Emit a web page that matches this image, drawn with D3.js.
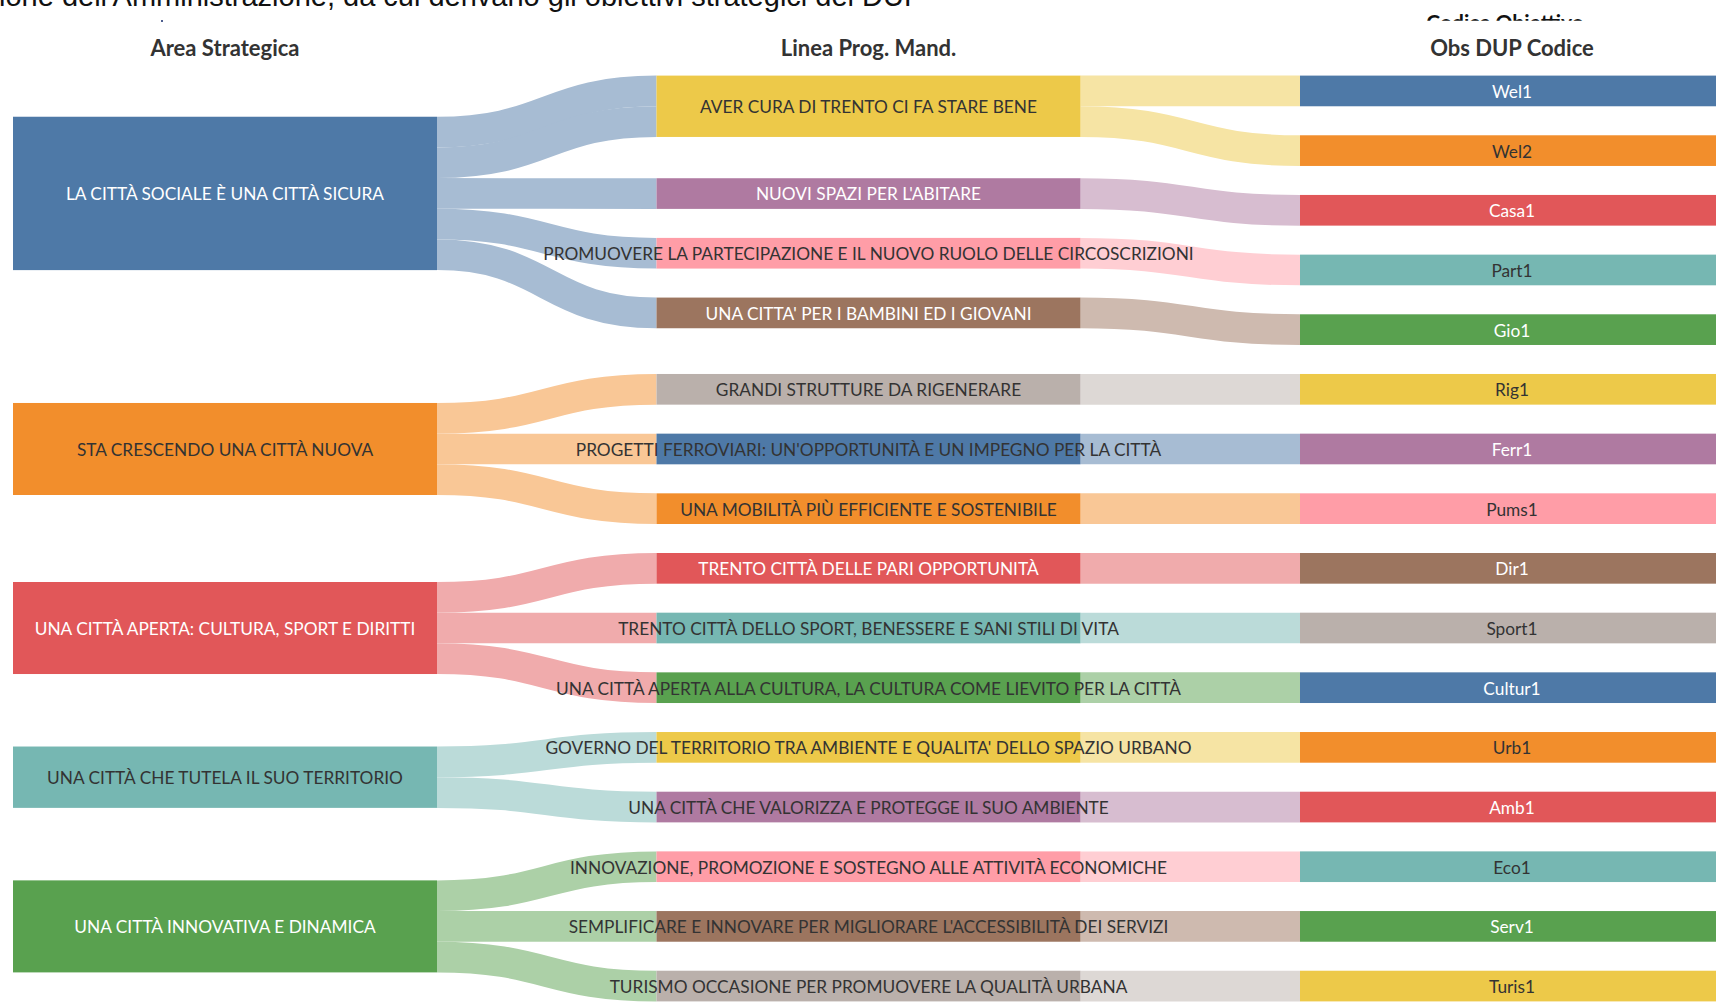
<!DOCTYPE html>
<html>
<head>
<meta charset="utf-8">
<script src="https://cdn.jsdelivr.net/npm/d3@7"></script>
<style>
  body { margin: 0; background: #fff; }
  svg { display: block; }
  .lbl { font-family: Lato, "Open Sans", sans-serif; font-size: 17.3px; }
  .hdr { font-family: Lato, "Open Sans", sans-serif; font-size: 22px; font-weight: bold; fill: #333; }
</style>
</head>
<body>
<div id="chart"></div>
<script>
var areas = [
  "LA CITTÀ SOCIALE È UNA CITTÀ SICURA",
  "STA CRESCENDO UNA CITTÀ NUOVA",
  "UNA CITTÀ APERTA: CULTURA, SPORT E DIRITTI",
  "UNA CITTÀ CHE TUTELA IL SUO TERRITORIO",
  "UNA CITTÀ INNOVATIVA E DINAMICA"
];

var linee = [
  "AVER CURA DI TRENTO CI FA STARE BENE",
  "NUOVI SPAZI PER L'ABITARE",
  "PROMUOVERE LA PARTECIPAZIONE E IL NUOVO RUOLO DELLE CIRCOSCRIZIONI",
  "UNA CITTA' PER I BAMBINI ED I GIOVANI",
  "GRANDI STRUTTURE DA RIGENERARE",
  "PROGETTI FERROVIARI: UN'OPPORTUNITÀ E UN IMPEGNO PER LA CITTÀ",
  "UNA MOBILITÀ PIÙ EFFICIENTE E SOSTENIBILE",
  "TRENTO CITTÀ DELLE PARI OPPORTUNITÀ",
  "TRENTO CITTÀ DELLO SPORT, BENESSERE E SANI STILI DI VITA",
  "UNA CITTÀ APERTA ALLA CULTURA, LA CULTURA COME LIEVITO PER LA CITTÀ",
  "GOVERNO DEL TERRITORIO TRA AMBIENTE E QUALITA' DELLO SPAZIO URBANO",
  "UNA CITTÀ CHE VALORIZZA E PROTEGGE IL SUO AMBIENTE",
  "INNOVAZIONE, PROMOZIONE E SOSTEGNO ALLE ATTIVITÀ ECONOMICHE",
  "SEMPLIFICARE E INNOVARE PER MIGLIORARE L'ACCESSIBILITÀ DEI SERVIZI",
  "TURISMO OCCASIONE PER PROMUOVERE LA QUALITÀ URBANA"
];

var codici = ["Wel1","Wel2","Casa1","Part1","Gio1","Rig1","Ferr1","Pums1",
              "Dir1","Sport1","Cultur1","Urb1","Amb1","Eco1","Serv1","Turis1"];

// one row per objective code: which area / programme line it belongs to
var rowArea  = [0, 0, 0, 0, 0, 1, 1, 1, 2, 2, 2, 3, 3, 4, 4, 4];
var rowLinea = [0, 0, 1, 2, 3, 4, 5, 6, 7, 8, 9, 10, 11, 12, 13, 14];
var rowValue = [1, 1, 1, 1, 1, 1, 1, 1, 1, 1, 1, 1, 1, 1, 1, 1];

var columnTitles = ["Area Strategica", "Linea Prog. Mand.", "Obs DUP Codice"];

var width = 1716, height = 1006;
var ext = {x0: 13, x1: 1724, y0: 75.6, y1: 1001.4},
    nodeWidth = 424,
    py = 29,          // padding between nodes
    iterations = 6;

var color = d3.scaleOrdinal(d3.schemeTableau10);

// build graph
var nodes = [];
areas.forEach(function(d) { nodes.push({name: d, layer: 0}); });
linee.forEach(function(d) { nodes.push({name: d, layer: 1}); });
codici.forEach(function(d) { nodes.push({name: d, layer: 2}); });
nodes.forEach(function(n, i) { n.index = i; n.sourceLinks = []; n.targetLinks = []; });

var links = [];
rowArea.forEach(function(a, i) {
  links.push({source: nodes[a], target: nodes[areas.length + rowLinea[i]], value: rowValue[i]});
});
rowLinea.forEach(function(l, i) {
  links.push({source: nodes[areas.length + l], target: nodes[areas.length + linee.length + i], value: rowValue[i]});
});
links.forEach(function(l, i) {
  l.index = i;
  l.source.sourceLinks.push(l);
  l.target.targetLinks.push(l);
});
nodes.forEach(function(n) {
  n.value = Math.max(d3.sum(n.sourceLinks, function(l) { return l.value; }),
                     d3.sum(n.targetLinks, function(l) { return l.value; }));
});

var columns = [0, 1, 2].map(function(k) { return nodes.filter(function(n) { return n.layer === k; }); });

var x = d3.scaleLinear().domain([0, 2]).range([ext.x0, ext.x1 - nodeWidth]);
nodes.forEach(function(n) { n.x0 = x(n.layer); n.x1 = n.x0 + nodeWidth; });

var ky = d3.min(columns, function(c) {
  return (ext.y1 - ext.y0 - (c.length - 1) * py) / d3.sum(c, function(n) { return n.value; });
});
var h = d3.scaleLinear().domain([0, 1]).range([0, ky]);

// ---- sankey style relaxation ----
function byBreadth(a, b) { return a.y0 - b.y0; }
function bySource(a, b) { return byBreadth(a.source, b.source) || a.index - b.index; }
function byTarget(a, b) { return byBreadth(a.target, b.target) || a.index - b.index; }

function reorderLinks(col) {
  col.forEach(function(n) { n.sourceLinks.sort(byTarget); n.targetLinks.sort(bySource); });
}
function reorderNodeLinks(n) {
  n.targetLinks.forEach(function(l) { l.source.sourceLinks.sort(byTarget); });
  n.sourceLinks.forEach(function(l) { l.target.targetLinks.sort(bySource); });
}

columns.forEach(function(col) {
  var y = ext.y0;
  col.forEach(function(n) {
    n.y0 = y;
    n.y1 = y + h(n.value);
    y = n.y1 + py;
    n.sourceLinks.forEach(function(l) { l.width = h(l.value); });
  });
  y = (ext.y1 - y + py) / (col.length + 1);
  col.forEach(function(n, i) { n.y0 += y * (i + 1); n.y1 += y * (i + 1); });
  reorderLinks(col);
});

function targetTop(source, target) {
  var y = source.y0 - (source.sourceLinks.length - 1) * py / 2;
  for (var i = 0; i < source.sourceLinks.length; i++) {
    var l = source.sourceLinks[i];
    if (l.target === target) break;
    y += l.width + py;
  }
  for (var j = 0; j < target.targetLinks.length; j++) {
    var m = target.targetLinks[j];
    if (m.source === source) break;
    y -= m.width;
  }
  return y;
}
function sourceTop(source, target) {
  var y = target.y0 - (target.targetLinks.length - 1) * py / 2;
  for (var i = 0; i < target.targetLinks.length; i++) {
    var l = target.targetLinks[i];
    if (l.source === source) break;
    y += l.width + py;
  }
  for (var j = 0; j < source.sourceLinks.length; j++) {
    var m = source.sourceLinks[j];
    if (m.target === target) break;
    y -= m.width;
  }
  return y;
}

function collideDown(col, y, i, alpha) {
  for (; i < col.length; ++i) {
    var n = col[i], dy = (y - n.y0) * alpha;
    if (dy > 1e-6) { n.y0 += dy; n.y1 += dy; }
    y = n.y1 + py;
  }
}
function collideUp(col, y, i, alpha) {
  for (; i >= 0; --i) {
    var n = col[i], dy = (n.y1 - y) * alpha;
    if (dy > 1e-6) { n.y0 -= dy; n.y1 -= dy; }
    y = n.y0 - py;
  }
}
function resolveCollisions(col, alpha) {
  var i = col.length >> 1, s = col[i];
  collideUp(col, s.y0 - py, i - 1, alpha);
  collideDown(col, s.y1 + py, i + 1, alpha);
  collideUp(col, ext.y1, col.length - 1, alpha);
  collideDown(col, ext.y0, 0, alpha);
}

function relaxRightToLeft(alpha, beta) {
  for (var c = columns.length - 2; c >= 0; --c) {
    var col = columns[c];
    col.forEach(function(s) {
      var y = 0, w = 0;
      s.sourceLinks.forEach(function(l) {
        var v = l.value * (l.target.layer - s.layer);
        y += sourceTop(s, l.target) * v;
        w += v;
      });
      if (!(w > 0)) return;
      var dy = (y / w - s.y0) * alpha;
      s.y0 += dy; s.y1 += dy;
      reorderNodeLinks(s);
    });
    col.sort(byBreadth);
    resolveCollisions(col, beta);
  }
}
function relaxLeftToRight(alpha, beta) {
  for (var c = 1; c < columns.length; ++c) {
    var col = columns[c];
    col.forEach(function(t) {
      var y = 0, w = 0;
      t.targetLinks.forEach(function(l) {
        var v = l.value * (t.layer - l.source.layer);
        y += targetTop(l.source, t) * v;
        w += v;
      });
      if (!(w > 0)) return;
      var dy = (y / w - t.y0) * alpha;
      t.y0 += dy; t.y1 += dy;
      reorderNodeLinks(t);
    });
    col.sort(byBreadth);
    resolveCollisions(col, beta);
  }
}

for (var it = 0; it < iterations; ++it) {
  var alpha = Math.pow(0.99, it);
  var beta = Math.max(1 - alpha, (it + 1) / iterations);
  relaxRightToLeft(alpha, beta);
  relaxLeftToRight(alpha, beta);
}

nodes.forEach(function(n) {
  n.sourceLinks.sort(byTarget);
  n.targetLinks.sort(bySource);
});
nodes.forEach(function(n) {
  var a = n.y0, b = n.y0;
  n.sourceLinks.forEach(function(l) { l.y0 = a + l.width / 2; a += l.width; });
  n.targetLinks.forEach(function(l) { l.y1 = b + l.width / 2; b += l.width; });
});

// ---- drawing ----
function luminance(c) {
  var r = d3.rgb(c);
  var f = function(v) { v /= 255; return v <= 0.03928 ? v / 12.92 : Math.pow((v + 0.055) / 1.055, 2.4); };
  return 0.2126 * f(r.r) + 0.7152 * f(r.g) + 0.0722 * f(r.b);
}

var svg = d3.select("#chart").append("svg")
  .attr("width", width)
  .attr("height", height);

svg.append("defs").append("clipPath")
  .attr("id", "topclip")
  .append("rect")
  .attr("x", 0).attr("y", 0)
  .attr("width", width).attr("height", 20.7);

// bits of the surrounding page that show at the top
svg.append("text")
  .attr("x", -1)
  .attr("y", 6)
  .style("font-family", "'Liberation Sans', Arial, sans-serif")
  .style("font-size", "29px")
  .style("fill", "#111")
  .text("ione dell'Amministrazione, da cui derivano gli obiettivi strategici del DUP");

svg.append("text")
  .attr("clip-path", "url(#topclip)")
  .attr("x", 1505)
  .attr("y", 30)
  .style("font-family", "Lato, sans-serif")
  .style("font-size", "21px")
  .style("font-weight", "bold")
  .style("fill", "#111")
  .style("text-anchor", "middle")
  .text("Codice Obiettivo");

svg.append("rect")
  .attr("x", 161).attr("y", 20)
  .attr("width", 2).attr("height", 2)
  .style("fill", "#4e5f8f");

svg.selectAll("text.hdr")
  .data(columnTitles).enter()
  .append("text")
  .attr("class", "hdr")
  .attr("x", function(d, i) { return x(i) + nodeWidth / 2; })
  .attr("y", 56)
  .style("text-anchor", "middle")
  .text(function(d) { return d; });

var link = d3.linkHorizontal()
  .source(function(d) { return [d.source.x1, d.y0]; })
  .target(function(d) { return [d.target.x0, d.y1]; });

svg.append("g")
  .attr("fill", "none")
  .selectAll("path")
  .data(links).enter()
  .append("path")
  .attr("d", link)
  .attr("stroke", function(d) { return d3.interpolateRgb(color(d.source.index), "#fff")(0.5); })
  .attr("stroke-width", function(d) { return Math.max(1, d.width); });

svg.append("g")
  .selectAll("rect")
  .data(nodes).enter()
  .append("rect")
  .attr("x", function(d) { return d.x0; })
  .attr("y", function(d) { return d.y0; })
  .attr("width", function(d) { return d.x1 - d.x0; })
  .attr("height", function(d) { return d.y1 - d.y0; })
  .attr("fill", function(d) { return color(d.index); });

svg.append("g")
  .selectAll("text")
  .data(nodes).enter()
  .append("text")
  .attr("class", "lbl")
  .attr("x", function(d) { return (d.x0 + d.x1) / 2; })
  .attr("y", function(d) { return (d.y0 + d.y1) / 2; })
  .attr("dy", "0.4em")
  .style("text-anchor", "middle")
  .text(function(d) { return d.name; })
  .style("fill", function(d) {
    var fits = this.getComputedTextLength() < nodeWidth - 8;
    return (fits && luminance(color(d.index)) < 0.33) ? "#fff" : "#333";
  });
</script>
</body>
</html>
